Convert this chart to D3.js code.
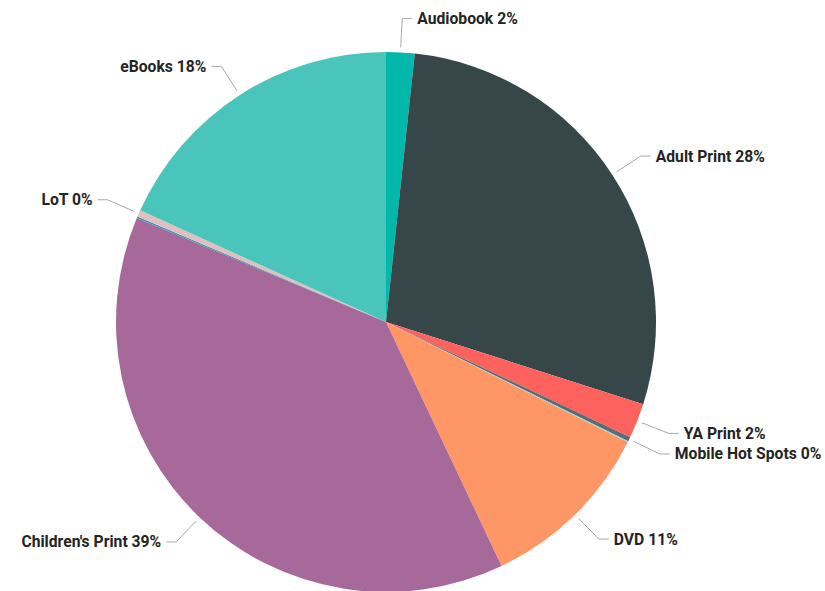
<!DOCTYPE html>
<html>
<head>
<meta charset="utf-8">
<script src="https://cdn.jsdelivr.net/npm/d3@7"></script>
<style>
  body { margin: 0; background: #fff; }
  .lbl { font-family: Roboto, "DejaVu Sans", sans-serif; font-weight: bold; font-size: 15.7px; fill: #252423; }
</style>
</head>
<body>
<div id="chart"></div>
<script>
// slice order goes clockwise from 12 o'clock
var categories = ["Audiobook", "Adult Print", "YA Print", "Mobile Hot Spots", "Other A", "DVD", "Children's Print", "Other B", "LoT", "eBooks"];
var values = [1.7, 28.2, 2.1, 0.25, 0.08, 10.6, 38.3, 0.1, 0.4, 18.2];
var labelText = ["Audiobook 2%", "Adult Print 28%", "YA Print 2%", "Mobile Hot Spots 0%", "", "DVD 11%", "Children's Print 39%", "", "LoT 0%", "eBooks 18%"];
var colors = ["#01B8AA", "#374649", "#FD625E", "#5F6B6D", "#8AD4EB", "#FE9666", "#A66999", "#3599B8", "#DFBFBF", "#4AC5BB"];

var svgWidth = 825;
var svgHeight = 591;
var cx = 386, cy = 322, radius = 270;

var svg = d3.select("#chart")
  .append("svg")
  .attr("width", svgWidth)
  .attr("height", svgHeight);

var g = svg.append("g")
  .attr("transform", `translate(${cx}, ${cy})`);

var data = categories.map(function(c, i) {
  return { name: c, value: values[i], label: labelText[i], color: colors[i] };
});

var pie = d3.pie()
  .sort(null)
  .value(d => d.value);

var arc = d3.arc()
  .innerRadius(0)
  .outerRadius(radius);

var arcs = pie(data);

g.selectAll("path.slice")
  .data(arcs)
  .enter()
  .append("path")
  .attr("class", "slice")
  .attr("d", arc)
  .attr("fill", d => d.data.color);

// leader lines + labels
var startArc = d3.arc().innerRadius(radius + 5).outerRadius(radius + 5);
var elbowArc = d3.arc().innerRadius(304).outerRadius(304);

var labelled = arcs.filter(d => d.data.label !== "");

labelled.forEach(function(d) {
  var mid = (d.startAngle + d.endAngle) / 2;
  var right = Math.sin(mid) >= 0;
  var p0 = startArc.centroid(d);
  var p1 = elbowArc.centroid(d);
  var p2 = [p1[0] + (right ? 10 : -10), p1[1]];

  g.append("polyline")
    .attr("points", [p0, p1, p2].map(p => p.join(",")).join(" "))
    .attr("fill", "none")
    .attr("stroke", "#aaaaaa")
    .attr("stroke-width", 1);

  g.append("text")
    .attr("class", "lbl")
    .attr("x", p2[0] + (right ? 5 : -5))
    .attr("y", p2[1])
    .attr("dy", "0.35em")
    .attr("text-anchor", right ? "start" : "end")
    .text(d.data.label);
});
</script>
</body>
</html>
